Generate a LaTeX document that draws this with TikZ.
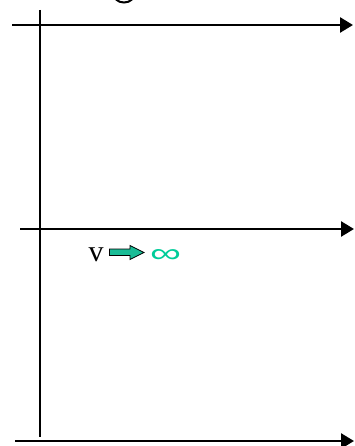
\documentclass[tikz,border=0pt]{standalone}
\usepackage{fontspec}
\usepackage{graphicx}
\setmainfont{Liberation Serif}
\newfontfamily\symfont{Liberation Sans}
\usetikzlibrary{arrows.meta}
\definecolor{seagreen}{HTML}{00CC99}
\definecolor{arrowfill}{HTML}{1ABC96}
\begin{document}
\begin{tikzpicture}[x=1pt,y=-1pt,
  axis/.style={line width=2.6pt},
  timeline/.style={axis,-{Triangle[length=13pt,width=15pt]}},
  lbl/.style={inner sep=0pt}]
\useasboundingbox (0,0) rectangle (354,446);
% cut-off descender at the top edge
\draw[line width=2pt] (116,-0.5) .. controls (120,3.5) and (128,3.5) .. (132,-0.5);
% vertical axis
\coordinate (vtop) at (40,10);
\coordinate (vbot) at (40,437);
\draw[axis] (vtop) -- (vbot);
% three horizontal lines
\coordinate (a1) at (12,25);  \coordinate (b1) at (353,25);
\coordinate (a2) at (20,229); \coordinate (b2) at (354,229);
\coordinate (a3) at (15,441); \coordinate (b3) at (354,441);
\draw[timeline] (a1) -- (b1);
\draw[timeline] (a2) -- (b2);
\draw[timeline] (a3) -- (b3);
% label v => infinity
\node[lbl,anchor=base,font=\fontsize{30}{30}\selectfont] (v) at (96,261.5) {v};
\draw[fill=arrowfill,line width=0.8pt,line join=miter]
  (109.5,249) -- (130,249) -- (130,245.5) -- (144,252.5) -- (130,259.5)
  -- (130,255.5) -- (109.5,255.5) -- cycle;
\node[lbl,text=seagreen,anchor=center] (inf) at (165.5,255.5)
  {\resizebox{31pt}{13pt}{\symfont ∞}};
\end{tikzpicture}
\end{document}
